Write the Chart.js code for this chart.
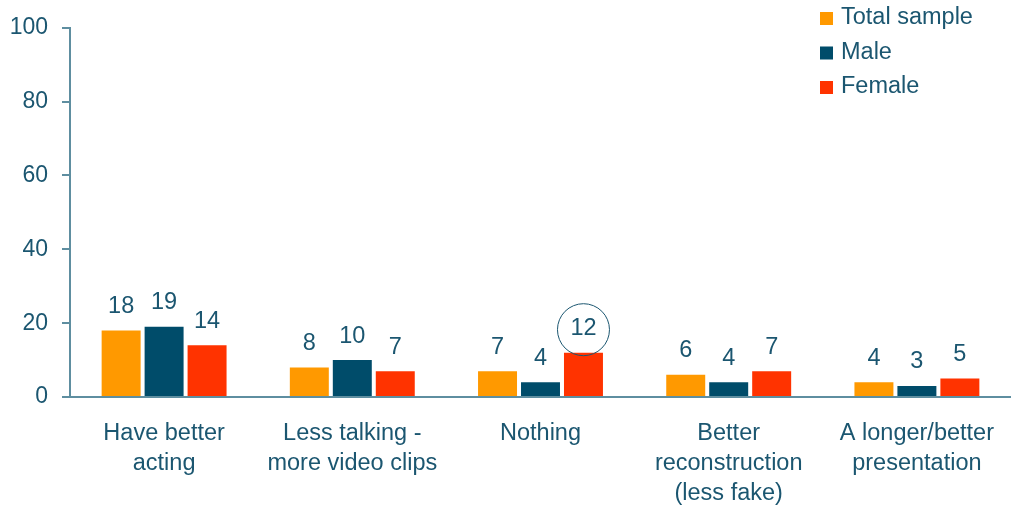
<!DOCTYPE html>
<html>
<head>
<meta charset="utf-8">
<script src="https://cdn.jsdelivr.net/npm/chart.js@4/dist/chart.umd.min.js"></script>
<style>
  body { margin: 0; background: #fff; }
  #wrap { width: 1011px; height: 514px; }
</style>
</head>
<body>
<div id="wrap"><canvas id="chart" width="1011" height="514"></canvas></div>
<script>
var categories = [
  ['Have better', 'acting'],
  ['Less talking -', 'more video clips'],
  ['Nothing'],
  ['Better', 'reconstruction', '(less fake)'],
  ['A longer/better', 'presentation']
];
var totalSample = [18, 8, 7, 6, 4];
var male = [19, 10, 4, 4, 3];
var female = [14, 7, 12, 7, 5];
var yTicks = [0, 20, 40, 60, 80, 100];

var textColor = '#1b5670';
var axisColor = '#5e8ea0';
var fontFamily = '"Liberation Sans", Arial, sans-serif';

// value labels above the bars, with a ring around the highlighted one
var valueLabels = {
  id: 'valueLabels',
  afterDatasetsDraw: function(chart) {
    var ctx = chart.ctx;
    ctx.save();
    ctx.font = '23.5px ' + fontFamily;
    ctx.fillStyle = textColor;
    ctx.textAlign = 'center';
    ctx.textBaseline = 'middle';
    chart.data.datasets.forEach(function(ds, i) {
      chart.getDatasetMeta(i).data.forEach(function(bar, j) {
        var y = bar.y - 24;
        ctx.fillText(ds.data[j], bar.x, y);
        if (ds.label === 'Female' && j === 2) {
          ctx.beginPath();
          ctx.strokeStyle = textColor;
          ctx.lineWidth = 1;
          ctx.arc(bar.x, y + 1, 26, 0, Math.PI * 2);
          ctx.stroke();
        }
      });
    });
    ctx.restore();
  }
};

var sideLegend = {
  id: 'sideLegend',
  afterDraw: function(chart) {
    var ctx = chart.ctx;
    ctx.save();
    ctx.font = '23.5px ' + fontFamily;
    ctx.textBaseline = 'middle';
    chart.data.datasets.forEach(function(ds, i) {
      var y = 18 + i * 34.5;
      ctx.fillStyle = ds.backgroundColor;
      ctx.fillRect(820, y - 6, 13, 13);
      ctx.fillStyle = textColor;
      ctx.fillText(ds.label, 841, y);
    });
    ctx.restore();
  }
};

new Chart(document.getElementById('chart').getContext('2d'), {
  type: 'bar',
  data: {
    labels: categories,
    datasets: [
      { label: 'Total sample', data: totalSample, backgroundColor: '#ff9900' },
      { label: 'Male', data: male, backgroundColor: '#004c6a' },
      { label: 'Female', data: female, backgroundColor: '#ff3300' }
    ]
  },
  options: {
    responsive: false,
    animation: false,
    layout: { padding: { top: 20, right: 0, left: 0, bottom: 0 } },
    datasets: {
      bar: { categoryPercentage: 0.685, barPercentage: 0.907 }
    },
    plugins: {
      legend: { display: false },
      tooltip: { enabled: false }
    },
    scales: {
      x: {
        grid: { drawOnChartArea: false, drawTicks: false },
        border: { color: axisColor, width: 2 },
        ticks: {
          color: textColor,
          font: { family: fontFamily, size: 23.5, lineHeight: '30px' },
          padding: 22,
          maxRotation: 0,
          autoSkip: false
        },
        afterFit: function(axis) {
          axis.height = 117;
          axis.paddingLeft = 0;
          axis.paddingRight = 0;
        }
      },
      y: {
        min: 0,
        max: 100,
        afterBuildTicks: function(axis) {
          axis.ticks = yTicks.map(function(v) { return { value: v }; });
        },
        grid: { drawOnChartArea: false, drawTicks: true, tickLength: 8, color: axisColor, lineWidth: 2 },
        border: { color: axisColor, width: 2 },
        ticks: {
          color: textColor,
          font: { family: fontFamily, size: 23 },
          padding: 14
        },
        afterFit: function(axis) { axis.width = 70; }
      }
    }
  },
  plugins: [valueLabels, sideLegend]
});
</script>
</body>
</html>
